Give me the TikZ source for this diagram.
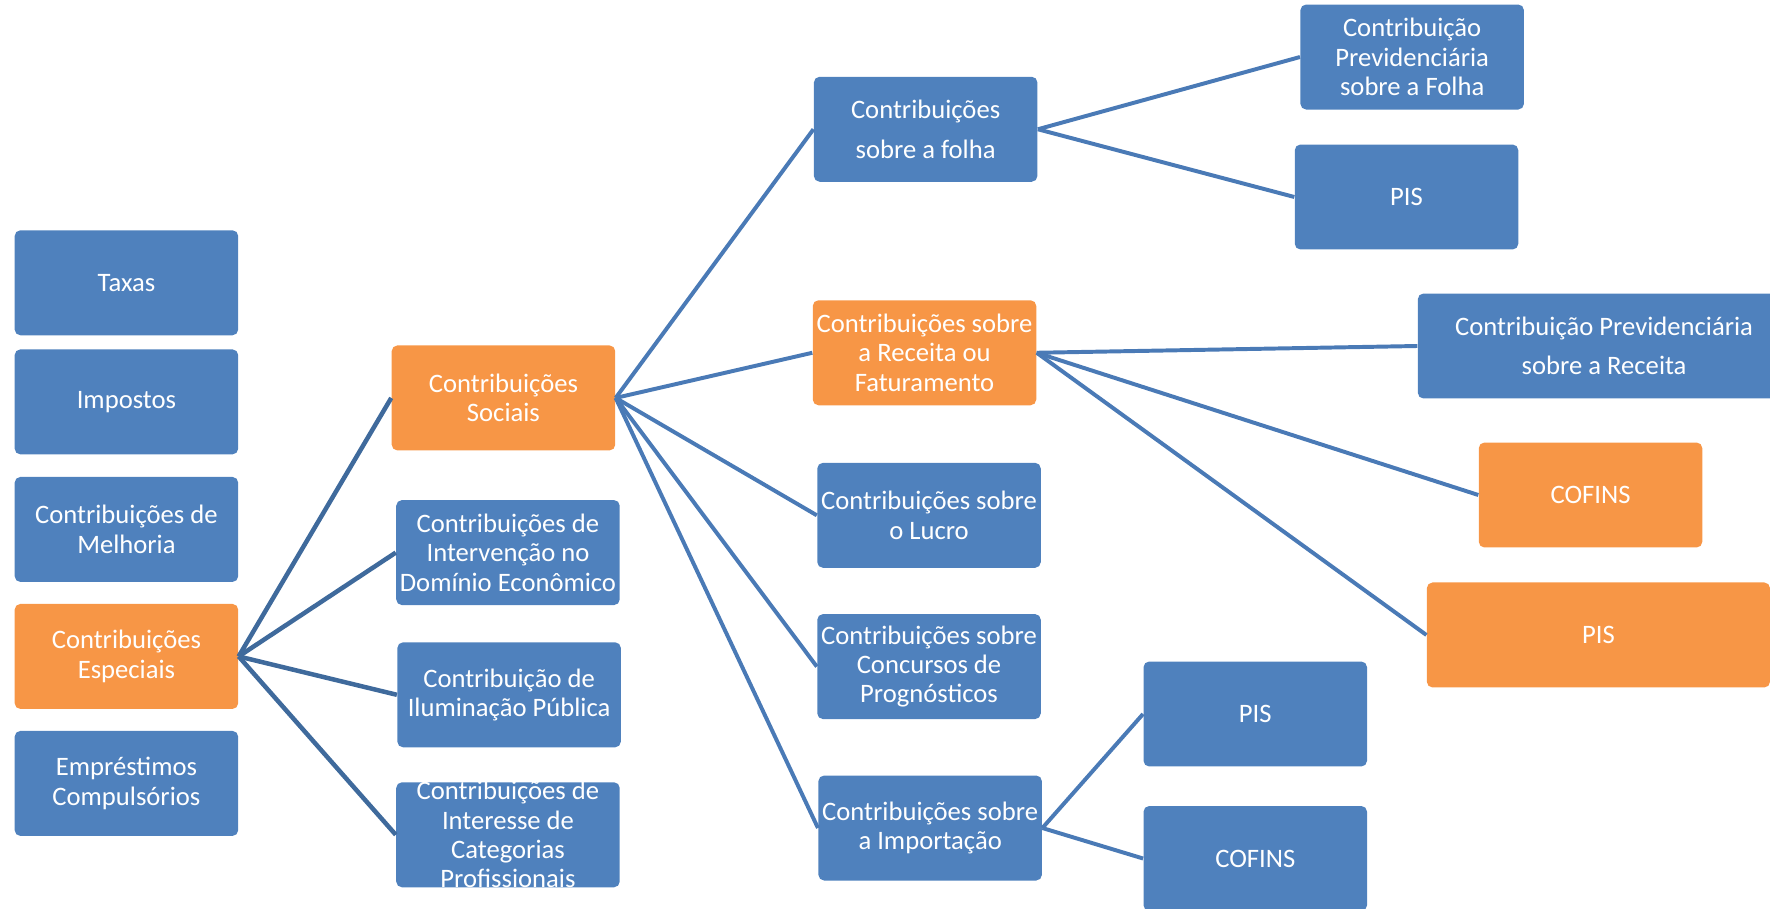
\documentclass[tikz,border=0pt]{standalone}
\usepackage{fontspec}
\setmainfont{Carlito}
\usepackage{tikz}
\usetikzlibrary{positioning}
\definecolor{boxblue}{HTML}{4F81BD}
\definecolor{boxorange}{HTML}{F79646}
\definecolor{linkdark}{HTML}{3F6A9C}
\definecolor{linkblue}{HTML}{4A7AB6}

\begin{document}
\begin{tikzpicture}[x=0.5pt, y=-0.5pt,
  box/.style={draw=none, fill=boxblue, rounded corners=2.5pt, text=white,
              font=\fontsize{11.8}{13}\selectfont, align=center,
              minimum width=99pt, minimum height=46.5pt, inner xsep=1pt, inner ysep=2pt},
  hot/.style={box, fill=boxorange},
  wide/.style={font=\fontsize{11.8}{17.5}\selectfont},
  ln/.style={draw=linkblue, line width=1.75pt},
  lnd/.style={draw=linkdark, line width=2pt}
]
\useasboundingbox (0,0) rectangle (1568,805);
\clip (0,0) rectangle (1568,805);
% first column
\node[box] (taxas) at (112,250.5) {Taxas};
\node[box] (impostos) at (112,356) {Impostos};
\node[box] (melhoria) at (112,469) {Contribuições de\\Melhoria};
\node[hot] (especiais) at (112,581.5) {Contribuições\\Especiais};
\node[box] (emprestimos) at (112,694) {Empréstimos\\Compulsórios};
% second column
\node[hot] (sociais) at (446,352.5) {Contribuições\\Sociais};
\node[box] (cide) at (450,489.5) {Contribuições de\\Intervenção no\\Domínio Econômico};
\node[box] (cip) at (451,615.5) {Contribuição de\\Iluminação Pública};
\node[box, inner ysep=-2.5pt] (categorias) at (450,739.5) {Contribuições de\\Interesse de\\Categorias\\Profissionais};
% third column
\node[box, wide] (folha) at (820,114.5) {Contribuições\\sobre a folha};
\node[hot] (receita) at (819,312.5) {Contribuições sobre\\a Receita ou\\Faturamento};
\node[box] (lucro) at (823,456.5) {Contribuições sobre\\o Lucro};
\node[box] (concursos) at (823,590.5) {Contribuições sobre\\Concursos de\\Prognósticos};
\node[box] (importacao) at (824,733.5) {Contribuições sobre\\a Importação};
% fourth column
\node[box] (prevfolha) at (1251,50.5) {Contribuição\\Previdenciária\\sobre a Folha};
\node[box] (pisfolha) at (1246,174.5) {PIS};
\node[box, wide, minimum width=165pt] (prevreceita) at (1421,306.5) {Contribuição Previdenciária\\sobre a Receita};
\node[hot] (cofinsreceita) at (1409,438.5) {COFINS};
\node[hot, minimum width=152pt] (pisreceita) at (1416,562.5) {PIS};
\node[box] (pisimport) at (1112,632.5) {PIS};
\node[box] (cofinsimport) at (1112,760.5) {COFINS};

\draw[lnd] (especiais.east) -- (sociais.west);
\draw[lnd] (especiais.east) -- (cide.west);
\draw[lnd] (especiais.east) -- (cip.west);
\draw[lnd] (especiais.east) -- (categorias.west);
\draw[ln] (sociais.east) -- (folha.west);
\draw[ln] (sociais.east) -- (receita.west);
\draw[ln] (sociais.east) -- (lucro.west);
\draw[ln] (sociais.east) -- (concursos.west);
\draw[ln] (sociais.east) -- (importacao.west);
\draw[ln] (folha.east) -- (prevfolha.west);
\draw[ln] (folha.east) -- (pisfolha.west);
\draw[ln] (receita.east) -- (prevreceita.west);
\draw[ln] (receita.east) -- (cofinsreceita.west);
\draw[ln] (receita.east) -- (pisreceita.west);
\draw[ln] (importacao.east) -- (pisimport.west);
\draw[ln] (importacao.east) -- (cofinsimport.west);
\end{tikzpicture}
\end{document}
